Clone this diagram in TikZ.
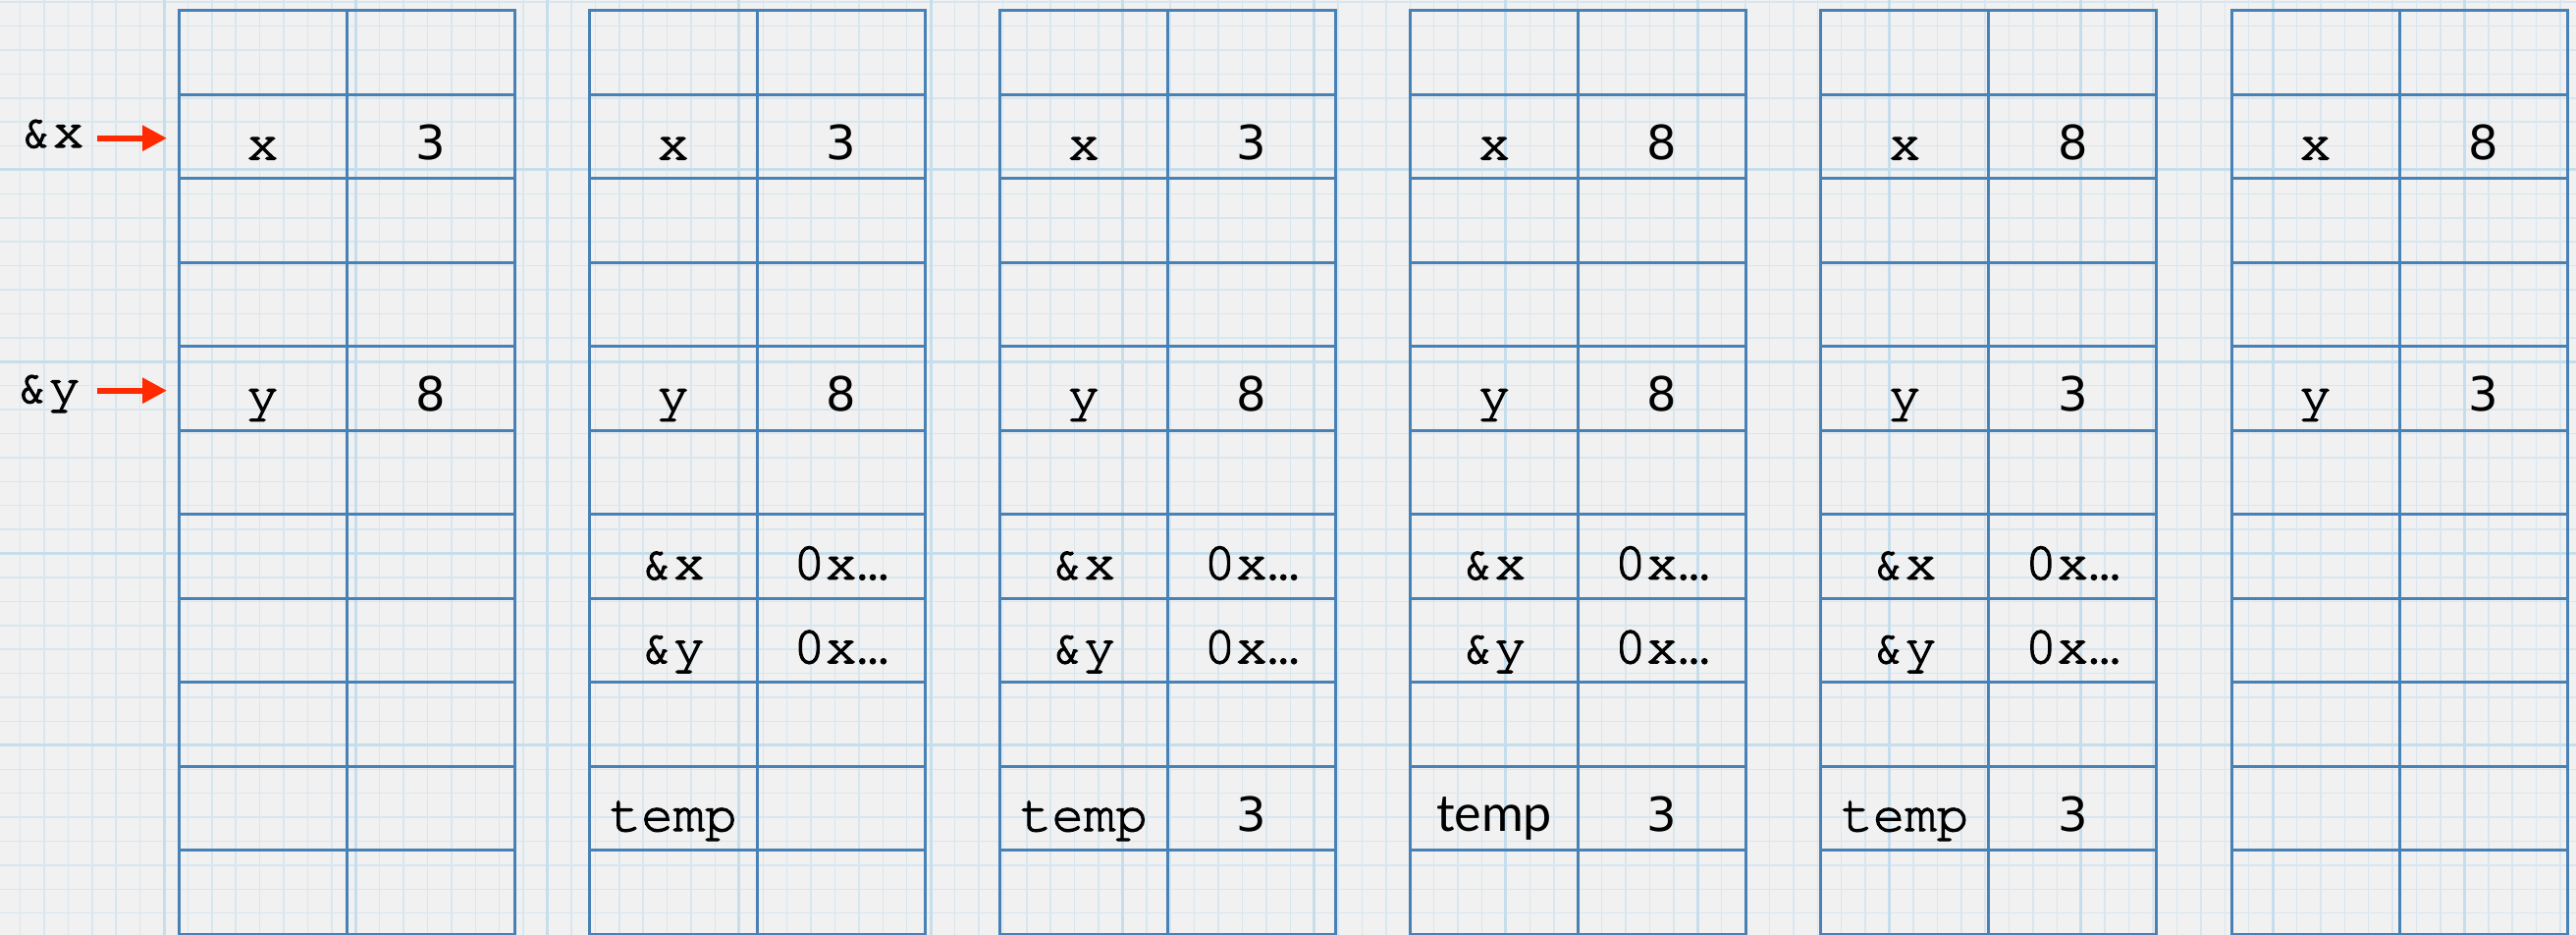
\documentclass[tikz,border=0pt]{standalone}
\usepackage{fontspec}
\usetikzlibrary{arrows.meta}
\newfontfamily\cour{texgyrecursor-regular.otf}[FakeBold=2.2]
\newfontfamily\dvs{DejaVu Sans}
\newfontfamily\lsans{Lato}
\definecolor{paper}{HTML}{F1F1F1}
\definecolor{gridminor}{HTML}{D8E6EF}
\definecolor{gridmajor}{HTML}{C6DEEC}
\definecolor{tblblue}{RGB}{72,129,181}
\definecolor{ptrred}{HTML}{FF2A00}
\begin{document}
\begin{tikzpicture}[x=1pt,y=-1pt,
  minorln/.style={draw=gridminor, line width=1.5pt},
  majorln/.style={draw=gridmajor, line width=3pt},
  tbl/.style={draw=tblblue, line width=3pt},
  mono/.style={font=\cour\fontsize{54}{60}\selectfont, anchor=base, inner sep=0pt},
  num/.style={font=\dvs\fontsize{48}{56}\selectfont, anchor=base, inner sep=0pt},
  sans/.style={font=\lsans\fontsize{52}{60}\selectfont, anchor=base, inner sep=0pt},
  ptr/.style={draw=ptrred, line width=6pt, -{Triangle[length=25pt,width=25pt]}}]
\useasboundingbox (0,0) rectangle (2624,952);
\clip (0,0) rectangle (2624,952);
\fill[paper] (0,0) rectangle (2624,952);
% graph paper
\foreach \i in {-7,...,102} {
  \pgfmathsetmacro\xx{167+24.41*\i}
  \draw[minorln] (\xx,0) -- (\xx,952);
}
\foreach \j in {-8,...,33} {
  \pgfmathsetmacro\yy{173+24.41*\j}
  \draw[minorln] (0,\yy) -- (2624,\yy);
}
\foreach \k in {0,...,12} {
  \pgfmathsetmacro\xx{167+195.28*\k}
  \draw[majorln] (\xx,0) -- (\xx,952);
}
\foreach \k in {-1,...,4} {
  \pgfmathsetmacro\yy{173+195.28*\k}
  \draw[majorln] (0,\yy) -- (2624,\yy);
}
% memory tables
\foreach \t in {0,...,5} {
  \pgfmathsetmacro\L{182+418.2*\t}
  \draw[tbl] (\L,11) rectangle ++(342,940);
  \draw[tbl] (\L+171,11) -- ++(0,940);
  \foreach \r in {1,...,10} {
    \draw[tbl] (\L,11+85.45*\r) -- ++(342,0);
  }
}
% pointer labels and arrows
\node[mono, anchor=base east] (lx) at (86,150) {\&x};
\node[mono, anchor=base east] (ly) at (82,410) {\&y};
\coordinate (ax0) at (99,140.7);
\coordinate (ax1) at (170,140.7);
\coordinate (ay0) at (99,397.7);
\coordinate (ay1) at (170,397.7);
\draw[ptr] (ax0) -- (ax1);
\draw[ptr] (ay0) -- (ay1);
% table 1
\node[mono] (t1xa) at (267.5,162.45) {x};
\node[num]  (t1xb) at (438.5,162.45) {3};
\node[mono] (t1ya) at (267.5,418.8) {y};
\node[num]  (t1yb) at (438.5,418.8) {8};
% table 2
\node[mono] (t2xa) at (685.7,162.45) {x};
\node[num]  (t2xb) at (856.7,162.45) {3};
\node[mono] (t2ya) at (685.7,418.8) {y};
\node[num]  (t2yb) at (856.7,418.8) {8};
\node[mono] (t2pa) at (685.7,589.7) {\&x};
\node[mono] (t2pb) at (856.7,589.7) {0x…};
\node[mono] (t2qa) at (685.7,675.15) {\&y};
\node[mono] (t2qb) at (856.7,675.15) {0x…};
\node[mono] (t2ta) at (685.7,846.05) {temp};
% table 3
\node[mono] (t3xa) at (1103.9,162.45) {x};
\node[num]  (t3xb) at (1274.9,162.45) {3};
\node[mono] (t3ya) at (1103.9,418.8) {y};
\node[num]  (t3yb) at (1274.9,418.8) {8};
\node[mono] (t3pa) at (1103.9,589.7) {\&x};
\node[mono] (t3pb) at (1274.9,589.7) {0x…};
\node[mono] (t3qa) at (1103.9,675.15) {\&y};
\node[mono] (t3qb) at (1274.9,675.15) {0x…};
\node[mono] (t3ta) at (1103.9,846.05) {temp};
\node[num]  (t3tb) at (1274.9,846.05) {3};
% table 4
\node[mono] (t4xa) at (1522.1,162.45) {x};
\node[num]  (t4xb) at (1693.1,162.45) {8};
\node[mono] (t4ya) at (1522.1,418.8) {y};
\node[num]  (t4yb) at (1693.1,418.8) {8};
\node[mono] (t4pa) at (1522.1,589.7) {\&x};
\node[mono] (t4pb) at (1693.1,589.7) {0x…};
\node[mono] (t4qa) at (1522.1,675.15) {\&y};
\node[mono] (t4qb) at (1693.1,675.15) {0x…};
\node[sans] (t4ta) at (1522.1,846.05) {temp};
\node[num]  (t4tb) at (1693.1,846.05) {3};
% table 5
\node[mono] (t5xa) at (1940.3,162.45) {x};
\node[num]  (t5xb) at (2111.3,162.45) {8};
\node[mono] (t5ya) at (1940.3,418.8) {y};
\node[num]  (t5yb) at (2111.3,418.8) {3};
\node[mono] (t5pa) at (1940.3,589.7) {\&x};
\node[mono] (t5pb) at (2111.3,589.7) {0x…};
\node[mono] (t5qa) at (1940.3,675.15) {\&y};
\node[mono] (t5qb) at (2111.3,675.15) {0x…};
\node[mono] (t5ta) at (1940.3,846.05) {temp};
\node[num]  (t5tb) at (2111.3,846.05) {3};
% table 6
\node[mono] (t6xa) at (2358.5,162.45) {x};
\node[num]  (t6xb) at (2529.5,162.45) {8};
\node[mono] (t6ya) at (2358.5,418.8) {y};
\node[num]  (t6yb) at (2529.5,418.8) {3};
\end{tikzpicture}
\end{document}
